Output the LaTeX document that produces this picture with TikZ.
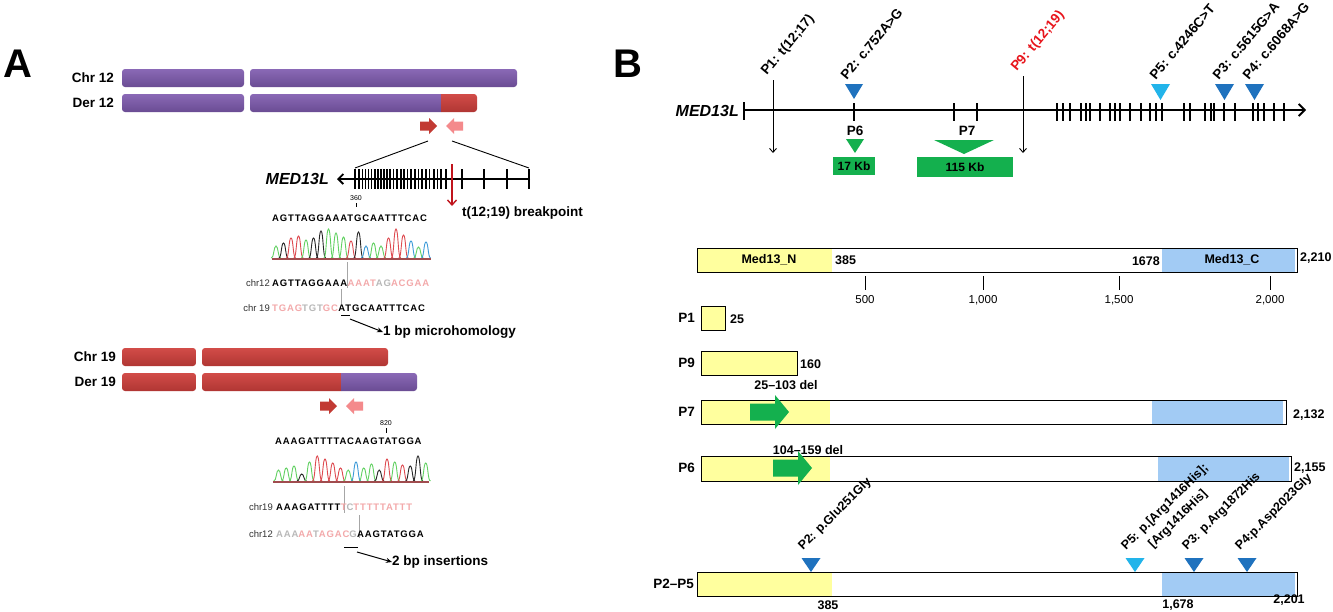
\documentclass[tikz,border=0pt]{standalone}
\usepackage{fontspec}
\setmainfont{Liberation Sans}
\usetikzlibrary{arrows.meta}
\definecolor{chrpT}{HTML}{8A69B6}
\definecolor{chrpB}{HTML}{6A4C93}
\definecolor{chrrT}{HTML}{D24C48}
\definecolor{chrrB}{HTML}{B03633}
\definecolor{primdark}{HTML}{C23A33}
\definecolor{primlight}{HTML}{F48A8C}
\definecolor{seqpink}{HTML}{F3A9AA}
\definecolor{seqgrey}{HTML}{B8B8B8}
\definecolor{gA}{HTML}{62D162}
\definecolor{gT}{HTML}{DE4A50}
\definecolor{gG}{HTML}{262626}
\definecolor{gC}{HTML}{3C9AD8}
\definecolor{basecol}{HTML}{A04C4E}
\definecolor{bpred}{HTML}{C0141C}
\definecolor{mgreen}{HTML}{14B04E}
\definecolor{tblue}{HTML}{1F72BE}
\definecolor{tlight}{HTML}{22B4EA}
\definecolor{pyellow}{HTML}{FFFF9E}
\definecolor{pblue}{HTML}{A2CBF4}
\definecolor{labred}{HTML}{E8141B}
\begin{document}
\begin{tikzpicture}[x=1pt,y=-1pt,
 font=\fontsize{13}{15}\selectfont\bfseries,
 lab/.style={font=\fontsize{13.5}{15}\selectfont\bfseries, inner sep=0pt},
 lab2/.style={font=\fontsize{12.5}{14}\selectfont\bfseries, inner sep=0pt},
 num/.style={font=\fontsize{11.5}{13}\selectfont, inner sep=0pt},
 tinyn/.style={font=\fontsize{7}{8}\selectfont, inner sep=0pt},
 chrlab/.style={font=\fontsize{9.5}{11}\selectfont, text=black!80, inner sep=0pt},
 seq/.style={font=\fontsize{9.5}{11}\selectfont\bfseries\addfontfeature{LetterSpace=9}, inner sep=0pt},
 gene/.style={font=\fontsize{16}{18}\selectfont\bfseries\itshape, inner sep=0pt},
 big/.style={font=\fontsize{40}{41}\selectfont\bfseries, inner sep=0pt},
 pshade/.style={top color=chrpT, bottom color=chrpB, draw=none},
 rshade/.style={top color=chrrT, bottom color=chrrB, draw=none},
 pbar/.style={pshade, rounded corners=3pt},
 rbar/.style={rshade, rounded corners=3pt},
 tickA/.style={line width=1.1pt},
 tickB/.style={line width=1.5pt},
 toplab/.style={font=\fontsize{13.5}{15}\selectfont\bfseries, rotate=50, anchor=south west, inner sep=0pt},
 botlab/.style={font=\fontsize{12.5}{14}\selectfont\bfseries, rotate=45, anchor=south west, inner sep=0pt},
 kbbox/.style={fill=mgreen, inner sep=0pt, font=\fontsize{12}{14}\selectfont\bfseries},
 barb/.style={-{Straight Barb[length=4pt,width=7pt]}},
 primR/.pic={\fill (0,-4.5) -- (9,-4.5) -- (9,-8) -- (17,0) -- (9,8) -- (9,4.5) -- (0,4.5) -- cycle;},
 primL/.pic={\fill (0,-4.5) -- (-9,-4.5) -- (-9,-8) -- (-17,0) -- (-9,8) -- (-9,4.5) -- (0,4.5) -- cycle;},
 garrow/.pic={\fill[mgreen] (0,-8.5) -- (25,-8.5) -- (25,-17) -- (39,0) -- (25,17) -- (25,8.5) -- (0,8.5) -- cycle;},
]
\useasboundingbox (0,0) rectangle (1333,611);
\fill[white] (0,0) rectangle (1333,611);

% ================= Panel A =================
\node[big, anchor=base west] (lblA) at (3,77) {A};

\node[lab, anchor=east] (chr12) at (114,78) {Chr 12};
\path[pbar] (122,69) rectangle (244,87);
\path[pbar] (250,69) rectangle (517,87);
\node[lab, anchor=east] (der12) at (114,103) {Der 12};
\path[pbar] (122,94) rectangle (244,112);
\begin{scope}
 \clip[rounded corners=3pt] (250,94) rectangle (477,112);
 \path[pshade] (250,94) rectangle (441,112);
 \path[rshade] (441,94) rectangle (477,112);
\end{scope}
\pic[fill=primdark] at (420,126) {primR};
\pic[fill=primlight] at (463,126) {primL};

% zoom lines
\coordinate (zl) at (428,141);
\coordinate (zr) at (452,141);
\coordinate (gl) at (355,168);
\coordinate (gr) at (529,168);
\draw[line width=0.9pt] (zl) -- (gl);
\draw[line width=0.9pt] (zr) -- (gr);

% gene A
\coordinate (gAr) at (530,179);
\coordinate (gAl) at (337,179);
\draw[line width=1.8pt, -{Straight Barb[length=5pt,width=10pt]}] (gAr) -- (gAl);
\foreach \t in {355,359,362.5,365.5,368.5,371.5,375,378,381,384,387,390,393.5,397,401,404,407.5,411,415,418.5,422,426,429.5,434,437.5,441,446,462,484,507,529}
 \draw[tickA] (\t,169) -- (\t,189);
\node[gene, anchor=east] (medA) at (329,179) {MED13L};
\coordinate (bpt) at (452,164);
\coordinate (bpb) at (452,206);
\draw[bpred, line width=1.4pt, -{Straight Barb[length=5pt,width=9pt]}] (bpt) -- (bpb);
\node[lab, anchor=west] (bplab) at (462,213) {t(12;19) breakpoint};

% sequence top
\node[tinyn] (n360) at (356,198) {360};
\draw[line width=0.5pt] (356,203) -- (356,207);
\node[seq, anchor=west] (sq1) at (272,218) {AGTTAGGAAATGCAATTTCAC};
\foreach \c/\h [count=\i from 0] in {gA/246,gG/243,gT/238,gT/236,gA/240,gG/238,gG/231,gA/229,gA/233,gA/237,gT/241,gG/232,gC/246,gA/243,gA/246,gT/238,gT/229,gT/235,gC/241,gA/247,gC/242}{
 \pgfmathsetmacro\xx{276+7.5*\i}
 \draw[\c, line width=0.9pt] ({\xx-4.6},258) .. controls ({\xx-2},258) and ({\xx-2.3},\h) .. (\xx,\h) .. controls ({\xx+2.3},\h) and ({\xx+2},258) .. ({\xx+4.6},258);
}
\draw[basecol, line width=1.3pt] (272,259) -- (431,259);
\draw[gray!70, line width=0.8pt] (347,262) -- (347,288);
\draw[gray!70, line width=0.8pt] (341,289) -- (341,306);
\node[chrlab, anchor=east] (c12a) at (270,283) {chr12};
\node[seq, anchor=west] (c12ak) at (272,283) {AGTTAGGAAA};
\node[seq, anchor=west] (c12ac) at (c12ak.east) {\textcolor{seqpink}{AAAT}\textcolor{seqgrey}{AG}\textcolor{seqpink}{ACGAA}};
\node[chrlab, anchor=east] (c19a) at (270,308) {chr 19};
\node[seq, anchor=west] (c19ac) at (272,308) {\textcolor{seqpink}{TGAG}\textcolor{seqgrey}{TGT}\textcolor{seqpink}{GC}};
\node[seq, anchor=west] (c19ak) at (c19ac.east) {ATGCAATTTCAC};
\draw[line width=1pt] (341,315) -- (350,315);
\coordinate (mh1) at (350,319);
\node[lab, anchor=west] (mhlab) at (383,332) {1 bp microhomology};
\draw[line width=1pt, -{Stealth[length=6pt,width=5pt]}] (mh1) -- (mhlab.west);

% chromosome 19
\node[lab, anchor=east] (chr19) at (116,357) {Chr 19};
\path[rbar] (122,348) rectangle (196,366);
\path[rbar] (202,348) rectangle (388,366);
\node[lab, anchor=east] (der19) at (116,382) {Der 19};
\path[rbar] (122,373) rectangle (196,391);
\begin{scope}
 \clip[rounded corners=3pt] (202,373) rectangle (417,391);
 \path[rshade] (202,373) rectangle (341,391);
 \path[pshade] (341,373) rectangle (417,391);
\end{scope}
\pic[fill=primdark] at (320,406) {primR};
\pic[fill=primlight] at (363,406) {primL};

\node[tinyn] (n820) at (386,423) {820};
\draw[line width=0.5pt] (386,428) -- (386,433);
\node[seq, anchor=west] (sq2) at (275,441) {AAAGATTTTACAAGTATGGA};
\foreach \c/\h [count=\i from 0] in {gA/470,gA/468,gA/466,gG/474,gA/462,gT/456,gT/459,gT/463,gT/468,gA/470,gC/462,gA/468,gA/464,gG/470,gT/459,gA/462,gT/465,gG/466,gG/456,gA/463}{
 \pgfmathsetmacro\xx{278.5+7.75*\i}
 \draw[\c, line width=0.9pt] ({\xx-4.7},481) .. controls ({\xx-2},481) and ({\xx-2.3},\h) .. (\xx,\h) .. controls ({\xx+2.3},\h) and ({\xx+2},481) .. ({\xx+4.7},481);
}
\draw[basecol, line width=1.3pt] (273,482) -- (429,482);
\draw[gray!70, line width=0.8pt] (344,486) -- (344,513);
\draw[gray!70, line width=0.8pt] (359,515) -- (359,538);
\node[chrlab, anchor=east] (c19b) at (273,507) {chr19};
\node[seq, anchor=west] (c19bk) at (276,507) {AAAGATTTT};
\node[seq, anchor=west] (c19bc) at (c19bk.east) {\textcolor{seqpink}{T}\textcolor{seqgrey}{C}\textcolor{seqpink}{TTTTTATTT}};
\node[chrlab, anchor=east] (c12b) at (273,534) {chr12};
\node[seq, anchor=west] (c12bc) at (276,534) {\textcolor{seqgrey}{AAA}\textcolor{seqpink}{AA}\textcolor{seqgrey}{T}\textcolor{seqpink}{AGAC}\textcolor{seqgrey}{G}};
\node[seq, anchor=west] (c12bk) at (c12bc.east) {AAGTATGGA};
\draw[line width=1pt] (344,547) -- (358,547);
\coordinate (ins1) at (357,552);
\node[lab, anchor=west] (inslab) at (392,562) {2 bp insertions};
\draw[line width=1pt, -{Stealth[length=6pt,width=5pt]}] (ins1) -- (inslab.west);

% ================= Panel B =================
\node[big, anchor=base west] (lblB) at (613,77) {B};
\node[gene, anchor=east] (medB) at (739,111) {MED13L};
\coordinate (gBl) at (744,110);
\coordinate (gBr) at (1306,110);
\draw[line width=1.8pt, -{Straight Barb[length=6pt,width=12pt]}] (gBl) -- (gBr);
\draw[tickB] (744,102) -- (744,120);
\foreach \t in {854,954,977,1057,1063,1070,1081,1086,1090,1100,1110,1115,1120,1130,1141,1150,1156,1162,1184,1190,1205,1211,1214,1224,1235,1253,1258,1264,1274,1284}
 \draw[tickB] (\t,103) -- (\t,121);

% P1 and P9 arrows
\coordinate (p1t) at (773,80);
\coordinate (p1b) at (773,153);
\draw[line width=0.9pt, barb] (p1t) -- (p1b);
\node[toplab] (p1lab) at (769,78) {P1: t(12;17)};
\coordinate (p9t) at (1023,76);
\coordinate (p9b) at (1023,153);
\draw[line width=0.9pt, barb] (p9t) -- (p9b);
\node[toplab, text=labred] (p9lab) at (1019,74) {P9: t(12;19)};

% mutation triangles top
\fill[tblue] (845,84) -- (863,84) -- (854,99) -- cycle;
\node[toplab] (p2lab) at (847,81) {P2: c.752A>G};
\fill[tlight] (1151,84) -- (1170,84) -- (1160.5,100) -- cycle;
\node[toplab] (p5lab) at (1156,81) {P5: c.4246C>T};
\fill[tblue] (1215,84) -- (1234,84) -- (1224.5,100) -- cycle;
\node[toplab] (p3lab) at (1219,81) {P3: c.5615G>A};
\fill[tblue] (1245,84) -- (1264,84) -- (1254.5,100) -- cycle;
\node[toplab] (p4lab) at (1249,81) {P4: c.6068A>G};

% deletions
\node[lab] (p6g) at (855,131) {P6};
\fill[mgreen] (846,139) -- (864,139) -- (855,153) -- cycle;
\node[kbbox, minimum width=42pt, minimum height=18pt] (kb17) at (854,166) {17 Kb};
\node[lab] (p7g) at (967,131) {P7};
\fill[mgreen] (934,140) -- (994,140) -- (964,154) -- cycle;
\node[kbbox, minimum width=96pt, minimum height=20pt] (kb115) at (965,167) {115 Kb};

% protein full length
\fill[pyellow] (697,248) rectangle (832,272);
\fill[pblue] (1162,248) rectangle (1295,272);
\draw[line width=1pt] (697,248) rectangle (1297,272);
\node[lab2] (medN) at (769,260) {Med13\_N};
\node[lab2, anchor=west] (n385) at (835,260) {385};
\node[lab2, anchor=east] (n1678) at (1160,261) {1678};
\node[lab2] (medC) at (1232,260) {Med13\_C};
\node[lab2, anchor=west] (n2210) at (1300,258) {2,210};
\foreach \t/\l in {865/500,983/{1,000},1119/{1,500},1270/{2,000}}{
 \draw[line width=1pt] (\t,276) -- (\t,290);
 \node[num] at (\t,300) {\l};
}

% P1
\node[lab, anchor=east] (pP1) at (695,318) {P1};
\draw[line width=1pt, fill=pyellow] (701,306) rectangle (725,330);
\node[lab2, anchor=west] (n25) at (730,319) {25};
% P9
\node[lab, anchor=east] (pP9) at (695,363) {P9};
\draw[line width=1pt, fill=pyellow] (701,351) rectangle (797,375);
\node[lab2, anchor=west] (n160) at (800,364) {160};
% P7
\node[lab2] (del1) at (786,385) {25\textendash103 del};
\node[lab, anchor=east] (pP7) at (695,412) {P7};
\fill[pyellow] (701,400) rectangle (830,424);
\fill[pblue] (1152,400) rectangle (1283,424);
\draw[line width=1pt] (701,400) rectangle (1286,424);
\pic at (750,412) {garrow};
\node[lab2, anchor=west] (n2132) at (1293,415) {2,132};
% P6
\node[lab2] (del2) at (808,450) {104\textendash159 del};
\node[lab, anchor=east] (pP6) at (695,468) {P6};
\fill[pyellow] (701,456) rectangle (830,481);
\fill[pblue] (1158,456) rectangle (1289,481);
\draw[line width=1pt] (701,456) rectangle (1291,481);
\pic at (773,468) {garrow};
\node[lab2, anchor=west] (n2155) at (1294,468) {2,155};

% P2-P5
\node[lab, anchor=east] (pP25) at (694,584) {P2\textendash P5};
\fill[pyellow] (697,572) rectangle (832,596);
\fill[pblue] (1162,572) rectangle (1295,596);
\draw[line width=1pt] (697,572) rectangle (1297,596);
\node[lab2] (b385) at (828,605) {385};
\node[lab2] (b1678) at (1178,605) {1,678};
\node[lab2] (b2201) at (1289,600) {2,201};
\fill[tblue] (801.5,558) -- (820.5,558) -- (811,572) -- cycle;
\fill[tlight] (1125.5,558) -- (1144.5,558) -- (1135,572) -- cycle;
\fill[tblue] (1184.5,558) -- (1203.5,558) -- (1194,572) -- cycle;
\fill[tblue] (1237.5,558) -- (1256.5,558) -- (1247,572) -- cycle;
\node[botlab] (m2) at (805,553) {P2: p.Glu251Gly};
\node[botlab] (m5) at (1128,553) {P5: p.[Arg1416His];};
\node[botlab] (m5b) at (1155,551) {[Arg1416His]};
\node[botlab] (m3) at (1189,553) {P3: p.Arg1872His};
\node[botlab] (m4) at (1242,553) {P4:p.Asp2023Gly};
\end{tikzpicture}
\end{document}
